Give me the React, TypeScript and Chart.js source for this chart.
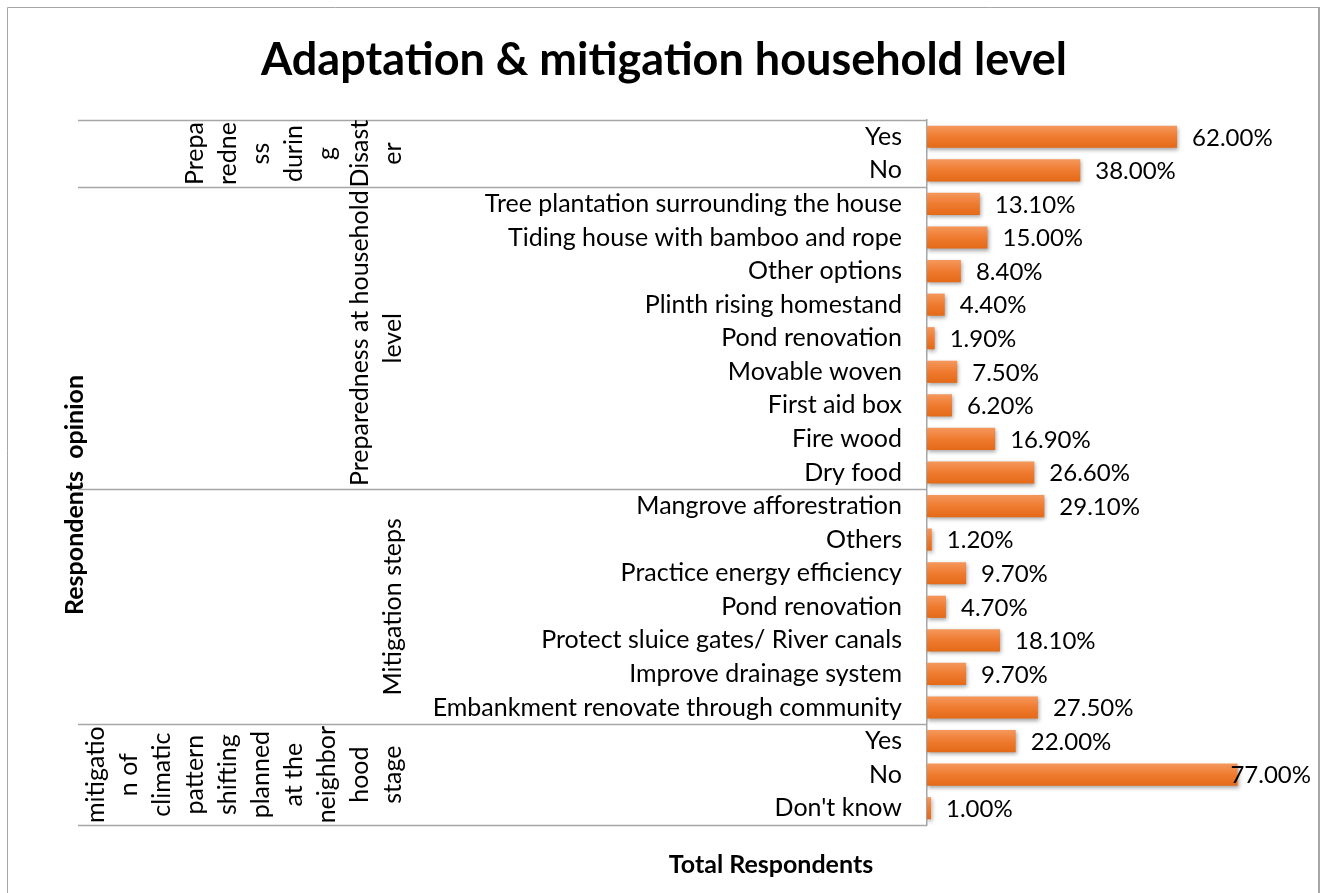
import React, { useEffect, useRef } from "react";
import { Chart, registerables } from "chart.js";

Chart.register(...registerables);

const chartTitle = "Adaptation & mitigation household level";
const xAxisTitle = "Total Respondents";
const yAxisTitle = "Respondents  opinion";

const categories = [
  "Yes",
  "No",
  "Tree plantation surrounding the house",
  "Tiding house with bamboo and rope",
  "Other options",
  "Plinth rising homestand",
  "Pond renovation",
  "Movable woven",
  "First aid box",
  "Fire wood",
  "Dry food",
  "Mangrove afforestration",
  "Others",
  "Practice energy efficiency",
  "Pond renovation",
  "Protect sluice gates/ River canals",
  "Improve drainage system",
  "Embankment renovate through community",
  "Yes",
  "No",
  "Don't know",
];

const values = [
  62.0, 38.0,
  13.1, 15.0, 8.4, 4.4, 1.9, 7.5, 6.2, 16.9, 26.6,
  29.1, 1.2, 9.7, 4.7, 18.1, 9.7, 27.5,
  22.0, 77.0, 1.0,
];

const groupSizes = [2, 9, 7, 3];

const groupLabelLines: string[][] = [
  ["Prepa", "redne", "ss", "durin", "g", "Disast", "er"],
  ["Preparedness at household", "level"],
  ["Mitigation steps"],
  ["mitigatio", "n of", "climatic", "pattern", "shifting", "planned", "at the", "neighbor", "hood", "stage"],
];

const xMax = 90;

const FONT = "Lato, 'Open Sans', sans-serif";
const LABEL_SIZE = 25;
const VALUE_SIZE = 24;

const decorPlugin = {
  id: "decor",
  beforeDraw(chart: any) {
    const { ctx, width, height } = chart;
    ctx.save();
    ctx.fillStyle = "#ffffff";
    ctx.fillRect(0, 0, width, height);
    ctx.strokeStyle = "#a6a6a6";
    ctx.lineWidth = 1;
    ctx.beginPath();
    ctx.moveTo(7.5, height + 5);
    ctx.lineTo(7.5, 7.5);
    ctx.lineTo(1318.5, 7.5);
    ctx.lineTo(1318.5, height + 5);
    ctx.stroke();
    ctx.lineWidth = 2;
    ctx.beginPath();
    ctx.moveTo(1319, 7);
    ctx.lineTo(1319, height + 5);
    ctx.stroke();
    ctx.restore();
  },
  beforeDatasetsDraw(chart: any) {
    const { ctx } = chart;
    ctx.save();
    ctx.shadowColor = "rgba(0,0,0,0.35)";
    ctx.shadowBlur = 4;
    ctx.shadowOffsetX = 1;
    ctx.shadowOffsetY = 2;
  },
  afterDatasetsDraw(chart: any) {
    const { ctx } = chart;
    ctx.restore();
    const meta = chart.getDatasetMeta(0);
    ctx.save();
    ctx.font = `${VALUE_SIZE}px ${FONT}`;
    ctx.fillStyle = "#000000";
    ctx.textBaseline = "middle";
    ctx.textAlign = "left";
    meta.data.forEach((bar: any, i: number) => {
      const txt = values[i].toFixed(2) + "%";
      const w = ctx.measureText(txt).width;
      let x = bar.x + 15;
      const limit = 1311;
      if (x + w > limit) x = limit - w;
      ctx.fillText(txt, x, bar.y + 1);
    });
    ctx.restore();
  },
  afterDraw(chart: any) {
    const { ctx, chartArea } = chart;
    const yScale = chart.scales.y;
    ctx.save();
    // title
    ctx.fillStyle = "#000000";
    ctx.textAlign = "center";
    ctx.textBaseline = "middle";
    ctx.font = `bold 45px ${FONT}`;
    ctx.fillText(chartTitle, 664, 60);
    ctx.font = `bold 25px ${FONT}`;
    ctx.fillText(xAxisTitle, 771, 865);
    ctx.save();
    ctx.translate(75, 495);
    ctx.rotate(-Math.PI / 2);
    ctx.fillText(yAxisTitle, 0, 0);
    ctx.restore();

    // group separators
    const boundaries: number[] = [chartArea.top];
    let idx = 0;
    groupSizes.forEach((n, g) => {
      idx += n;
      if (g < groupSizes.length - 1) {
        const a = yScale.getPixelForValue(idx - 1);
        const b = yScale.getPixelForValue(idx);
        boundaries.push((a + b) / 2);
      }
    });
    boundaries.push(chartArea.bottom);
    ctx.strokeStyle = "#a6a6a6";
    ctx.lineWidth = 1.5;
    boundaries.forEach((y) => {
      ctx.beginPath();
      ctx.moveTo(78, Math.round(y) + 0.5);
      ctx.lineTo(chartArea.left, Math.round(y) + 0.5);
      ctx.stroke();
    });

    // group labels
    ctx.font = `${LABEL_SIZE}px ${FONT}`;
    ctx.fillStyle = "#000000";
    groupLabelLines.forEach((lines, g) => {
      const cy = (boundaries[g] + boundaries[g + 1]) / 2;
      const n = lines.length;
      lines.forEach((line, i) => {
        const x = chartArea.left - 534 - (n - 1 - i) * 33;
        ctx.save();
        ctx.translate(x, cy);
        ctx.rotate(-Math.PI / 2);
        ctx.textAlign = "center";
        ctx.textBaseline = "middle";
        ctx.fillText(line, 0, 0);
        ctx.restore();
      });
    });
    ctx.restore();
  },
};

function barGradient(context: any) {
  const chart = context.chart;
  const { chartArea } = chart;
  if (!chartArea) return "#ED7D31";
  const yScale = chart.scales.y;
  const y = yScale.getPixelForValue(context.dataIndex);
  const h = 12;
  const g = chart.ctx.createLinearGradient(0, y - h, 0, y + h);
  g.addColorStop(0, "#F59A60");
  g.addColorStop(0.5, "#EF7B30");
  g.addColorStop(1, "#E26815");
  return g;
}

export default function App() {
  const ref = useRef<HTMLCanvasElement>(null);
  useEffect(() => {
    if (!ref.current) return;
    const chart = new Chart(ref.current, {
      type: "bar",
      data: {
        labels: categories,
        datasets: [
          {
            data: values,
            backgroundColor: barGradient as any,
            borderWidth: 0,
            barPercentage: 0.66,
            categoryPercentage: 1,
          },
        ],
      },
      options: {
        indexAxis: "y",
        animation: false,
        responsive: false,
        maintainAspectRatio: false,
        devicePixelRatio: 1,
        layout: { padding: { top: 120, bottom: 68, right: 31, left: 0 } },
        plugins: {
          legend: { display: false },
          tooltip: { enabled: false },
          title: { display: false },
        },
        scales: {
          x: { display: false, min: 0, max: xMax },
          y: {
            type: "category",
            grid: { display: false },
            border: { display: true, color: "#a6a6a6", width: 1.5 },
            ticks: {
              color: "#000000",
              padding: 17,
              font: { family: FONT, size: LABEL_SIZE },
              autoSkip: false,
            },
            afterFit: (scale: any) => {
              scale.width = 927;
            },
          },
        },
      },
      plugins: [decorPlugin],
    });
    return () => chart.destroy();
  }, []);
  return (
    <div style={{ position: "absolute", left: 0, top: 0, width: 1321, height: 893 }}>
      <canvas ref={ref} width={1321} height={893} style={{ display: "block" }} />
    </div>
  );
}
